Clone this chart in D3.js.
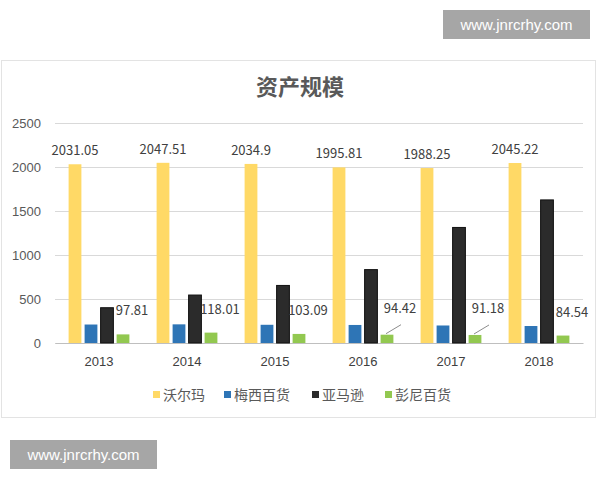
<!DOCTYPE html>
<html>
<head>
<meta charset="utf-8">
<script src="https://cdn.jsdelivr.net/npm/d3@7"></script>
<style>
  body { margin: 0; background: #fff; }
  svg { display: block; font-family: "Noto Sans CJK SC", "Liberation Sans", sans-serif; }
</style>
</head>
<body>
<svg id="root" width="600" height="480"></svg>
<script>
const years = ["2013", "2014", "2015", "2016", "2017", "2018"];
const seriesNames = ["沃尔玛", "梅西百货", "亚马逊", "彭尼百货"];
const walmart = [2031.05, 2047.51, 2034.9, 1995.81, 1988.25, 2045.22];
const macys = [210, 212, 207, 205, 199, 193];
const amazon = [401, 545, 654, 834, 1313, 1626];
const jcpenney = [97.81, 118.01, 103.09, 94.42, 91.18, 84.54];
const yTicks = [0, 500, 1000, 1500, 2000, 2500];
const colors = ["#FFD966", "#2E75B6", "#2B2B2B", "#92C850"];

const main = () => {
    const svg = d3.select("#root");
    const allSeries = [walmart, macys, amazon, jcpenney];

    const margin = { top: 123, left: 55, bottom: 137, right: 17 };
    const width = 600, height = 480;

    // chart frame
    svg.append("rect")
        .attr("x", 1.5).attr("y", 60.5)
        .attr("width", 594).attr("height", 357)
        .attr("fill", "#fff")
        .attr("stroke", "#e3e3e3");

    const x = d3.scaleBand()
        .domain(years)
        .range([margin.left, width - margin.right]);
    const inner = d3.scaleBand()
        .domain(seriesNames)
        .range([-32, 32])
        .paddingInner(0.2)
        .paddingOuter(0.1);
    const y = d3.scaleLinear()
        .domain([0, 2500])
        .range([height - margin.bottom, margin.top]);

    // gridlines + y labels
    const yAxis = d3.axisLeft(y).tickValues(yTicks)
        .tickFormat(d3.format("d"))
        .tickSize(-(width - margin.left - margin.right))
        .tickPadding(14);
    svg.append("g")
        .attr("transform", `translate(${margin.left},0)`)
        .call(yAxis)
        .call((g) => g.select(".domain").remove())
        .call((g) => g.selectAll(".tick line").attr("stroke", "#d9d9d9"))
        .call((g) => g.selectAll(".tick text")
            .attr("fill", "#595959").style("font-size", "13px"));

    // x axis
    svg.append("g")
        .attr("transform", `translate(0,${y(0)})`)
        .call(d3.axisBottom(x).tickSize(0).tickPadding(14))
        .call((g) => g.select(".domain").attr("stroke", "#bfbfbf"))
        .call((g) => g.selectAll(".tick text")
            .attr("fill", "#404040").style("font-size", "13px"));

    // bars
    const groups = svg.append("g").selectAll("g")
        .data(years)
        .join("g")
        .attr("transform", (d) => `translate(${x(d) + x.bandwidth() / 2},0)`);

    groups.selectAll("rect")
        .data((d, i) => seriesNames.map((s, k) => ({ s, k, v: allSeries[k][i] })))
        .join("rect")
        .attr("x", (d) => inner(d.s))
        .attr("width", inner.bandwidth())
        .attr("y", (d) => y(d.v))
        .attr("height", (d) => y(0) - y(d.v))
        .attr("fill", (d) => colors[d.k])
        .attr("stroke", (d) => d.k == 2 ? "#111" : "none");

    // walmart labels
    groups.append("text")
        .attr("x", inner(seriesNames[0]) + inner.bandwidth() / 2)
        .attr("y", (d, i) => y(walmart[i]) - 9)
        .attr("text-anchor", "middle")
        .attr("fill", "#404040")
        .style("font-size", "13px")
        .text((d, i) => walmart[i]);

    // jcpenney labels, 2016 and 2017 get a leader line
    const gx = inner(seriesNames[3]) + inner.bandwidth() / 2;
    groups.append("text")
        .attr("x", (d, i) => gx + (i == 3 || i == 4 ? 13 : 9))
        .attr("y", (d, i) => y(jcpenney[i]) - (i == 3 || i == 4 ? 22 : 19))
        .attr("text-anchor", "middle")
        .attr("fill", "#404040")
        .style("font-size", "13px")
        .text((d, i) => jcpenney[i]);

    groups.filter((d, i) => i == 3 || i == 4)
        .append("line")
        .attr("x1", gx - 1)
        .attr("y1", (d) => y(jcpenney[years.indexOf(d)]) - 1)
        .attr("x2", gx + 14)
        .attr("y2", (d) => y(jcpenney[years.indexOf(d)]) - 10)
        .attr("stroke", "#8c8c8c");

    // title
    svg.append("text")
        .attr("x", 300).attr("y", 95)
        .attr("text-anchor", "middle")
        .attr("fill", "#595959")
        .style("font-size", "22px")
        .style("font-weight", "bold")
        .text("资产规模");

    // legend
    const legendX = [153, 224, 312, 385];
    const legend = svg.append("g").selectAll("g")
        .data(seriesNames)
        .join("g")
        .attr("transform", (d, i) => `translate(${legendX[i]},395)`);
    legend.append("rect")
        .attr("x", 0).attr("y", -4)
        .attr("width", 7).attr("height", 7)
        .attr("fill", (d, i) => colors[i]);
    legend.append("text")
        .attr("x", 10).attr("y", 5)
        .attr("fill", "#595959")
        .style("font-size", "14px")
        .text((d) => d);

    // watermarks
    const marks = [[443, 10], [10, 440]];
    marks.forEach(([mx, my]) => {
        svg.append("rect")
            .attr("x", mx).attr("y", my)
            .attr("width", 147).attr("height", 29)
            .attr("fill", "#a6a6a6");
        svg.append("text")
            .attr("x", mx + 73.5).attr("y", my + 20)
            .attr("text-anchor", "middle")
            .attr("fill", "#fff")
            .style("font-family", "'Liberation Sans', Arial, sans-serif")
            .style("font-size", "15px")
            .text("www.jnrcrhy.com");
    });
};

main();
</script>
</body>
</html>
